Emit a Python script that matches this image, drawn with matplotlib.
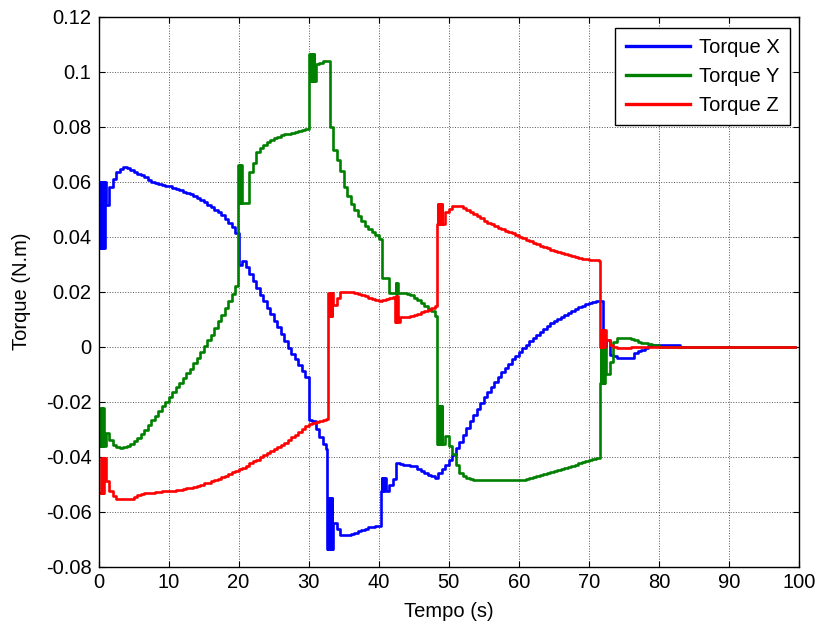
import numpy as np
import matplotlib
matplotlib.use('Agg')
import matplotlib.pyplot as plt
from matplotlib.ticker import FuncFormatter

plt.rcParams['font.family'] = ['Liberation Sans', 'DejaVu Sans']
plt.rcParams['axes.unicode_minus'] = False

# amostras a cada 0.5 s, de 0 a 83 s
dt = 0.5
t_end = 99.5

torque_x = [
    0.060, 0.036, 0.0515, 0.058, 0.061, 0.0635, 0.0645, 0.0652, 0.065, 0.0643,
    0.0636, 0.0629, 0.0622, 0.0615, 0.0607, 0.0600, 0.0595, 0.0591, 0.0588, 0.0585,
    0.0582, 0.0578, 0.0573, 0.0568, 0.0563, 0.0558, 0.0553, 0.0547, 0.0540, 0.0532,
    0.0524, 0.0515, 0.0506, 0.0498, 0.0489, 0.0477, 0.0464, 0.0450, 0.0433, 0.0413,
    0.0298, 0.0310, 0.0290, 0.0262, 0.0237, 0.0212, 0.0188, 0.0164, 0.0140, 0.0117,
    0.0094, 0.0070, 0.0045, 0.0021, -0.0004, -0.0026, -0.0047, -0.0067, -0.0089, -0.0110,
    -0.0268, -0.0270, -0.0300, -0.0330, -0.0355, -0.0372, -0.0600, -0.0640, -0.0665, -0.0687,
    -0.0687, -0.0687, -0.0683, -0.0678, -0.0672, -0.0667, -0.0662, -0.0658, -0.0655, -0.0653,
    -0.0652, -0.0500, -0.0526, -0.0505, -0.0480, -0.0422, -0.0428, -0.0430, -0.0431, -0.0433,
    -0.0436, -0.0445, -0.0453, -0.0460, -0.0467, -0.0472, -0.0477, -0.0460, -0.0445, -0.0430,
    -0.0412, -0.0395, -0.0370, -0.0347, -0.0323, -0.0298, -0.0272, -0.0250, -0.0228, -0.0207,
    -0.0185, -0.0166, -0.0147, -0.0128, -0.0110, -0.0094, -0.0078, -0.0062, -0.0047, -0.0033,
    -0.0019, -0.0006, 0.0007, 0.0019, 0.0031, 0.0043, 0.0054, 0.0064, 0.0074, 0.0084,
    0.0093, 0.0101, 0.0109, 0.0116, 0.0123, 0.0130, 0.0137, 0.0143, 0.0149, 0.0155,
    0.0159, 0.0162, 0.0164, 0.0166, 0.0000, 0.0024, -0.0030, -0.0035, -0.0040, -0.0043,
    -0.0043, -0.0043, -0.0040, -0.0025, -0.0018, -0.0012, -0.0005, 0.0003, 0.0006, 0.0007,
    0.0007, 0.0007, 0.0007, 0.0007, 0.0007, 0.0007, 0.0,
]

torque_y = [
    -0.0362, -0.030, -0.0314, -0.034, -0.0358, -0.0364, -0.0368, -0.0367, -0.0362, -0.0356,
    -0.0344, -0.0331, -0.0318, -0.0302, -0.0285, -0.0269, -0.0252, -0.0235, -0.0218, -0.0200,
    -0.0182, -0.0165, -0.0148, -0.0131, -0.0114, -0.0097, -0.0080, -0.0061, -0.0041, -0.0020,
    0.0001, 0.0022, 0.0043, 0.0067, 0.0091, 0.0116, 0.0141, 0.0167, 0.0190, 0.0220,
    0.060, 0.0521, 0.0521, 0.0636, 0.0666, 0.0709, 0.0722, 0.0732, 0.0742, 0.0750,
    0.0757, 0.0763, 0.0768, 0.0771, 0.0773, 0.0775, 0.0779, 0.0783, 0.0787, 0.0791,
    0.100, 0.100, 0.1027, 0.1032, 0.1037, 0.1037, 0.0799, 0.0715, 0.0680, 0.0639,
    0.0580, 0.0546, 0.0520, 0.0495, 0.0475, 0.0455, 0.0438, 0.0426, 0.0417, 0.0405,
    0.0392, 0.0250, 0.0250, 0.0195, 0.0195, 0.0232, 0.0195, 0.0193, 0.0191, 0.0189,
    0.0178, 0.0168, 0.0158, 0.0148, 0.0138, 0.0128, 0.0112, -0.0300, -0.0300, -0.0325,
    -0.0360, -0.0390, -0.0430, -0.0460, -0.0472, -0.0478, -0.0481, -0.0484, -0.0486, -0.0486,
    -0.0486, -0.0486, -0.0486, -0.0486, -0.0486, -0.0486, -0.0486, -0.0486, -0.0486, -0.0486,
    -0.0486, -0.0485, -0.0482, -0.0478, -0.0475, -0.0471, -0.0467, -0.0464, -0.0460, -0.0456,
    -0.0452, -0.0449, -0.0445, -0.0441, -0.0437, -0.0434, -0.0430, -0.0425, -0.0420, -0.0416,
    -0.0413, -0.0410, -0.0407, -0.0404, -0.0134, -0.0100, -0.0055, 0.0018, 0.0030, 0.0030,
    0.0030, 0.0030, 0.0028, 0.0022, 0.0018, 0.0014, 0.0011, 0.0009, 0.0007, 0.0006,
    0.0, 0.0, 0.0, 0.0, 0.0, 0.0, 0.0,
]

torque_z = [
    -0.0531, -0.0450, -0.0489, -0.0525, -0.0545, -0.0556, -0.0556, -0.0556, -0.0556, -0.0556,
    -0.0546, -0.0541, -0.0537, -0.0534, -0.0532, -0.0531, -0.0529, -0.0528, -0.0527, -0.0526,
    -0.0525, -0.0524, -0.0522, -0.0520, -0.0518, -0.0516, -0.0513, -0.0510, -0.0506, -0.0502,
    -0.0498, -0.0495, -0.0490, -0.0485, -0.0480, -0.0475, -0.0470, -0.0465, -0.0458, -0.0452,
    -0.0446, -0.0440, -0.0433, -0.0425, -0.0418, -0.0411, -0.0403, -0.0395, -0.0388, -0.0380,
    -0.0372, -0.0365, -0.0357, -0.0350, -0.0340, -0.0330, -0.0320, -0.0310, -0.0300, -0.0290,
    -0.0283, -0.0278, -0.0274, -0.0270, -0.0267, -0.0265, 0.0150, 0.0150, 0.0176, 0.0200,
    0.0200, 0.0200, 0.0199, 0.0196, 0.0192, 0.0188, 0.0183, 0.0178, 0.0173, 0.0168,
    0.0164, 0.0168, 0.0172, 0.0176, 0.0180, 0.0100, 0.0109, 0.0109, 0.0109, 0.0110,
    0.0114, 0.0119, 0.0124, 0.0129, 0.0134, 0.0139, 0.0146, 0.0480, 0.0480, 0.0490,
    0.0500, 0.0512, 0.0512, 0.0510, 0.0505, 0.0495, 0.0490, 0.0483, 0.0475, 0.0466,
    0.0457, 0.0450, 0.0444, 0.0438, 0.0432, 0.0427, 0.0421, 0.0416, 0.0411, 0.0406,
    0.0400, 0.0394, 0.0388, 0.0383, 0.0378, 0.0373, 0.0367, 0.0362, 0.0357, 0.0352,
    0.0348, 0.0344, 0.0340, 0.0336, 0.0332, 0.0329, 0.0326, 0.0323, 0.0320, 0.0318,
    0.0316, 0.0315, 0.0313, 0.0312, 0.0060, 0.0024, 0.0005, -0.0003, -0.0007, -0.0007,
    -0.0007, -0.0005, 0.0, 0.0, 0.0, 0.0, 0.0, 0.0, 0.0, 0.0,
    0.0, 0.0, 0.0, 0.0, 0.0, 0.0, 0.0,
]

# oscilacoes rapidas: (inicio, fim, minimo, maximo)
bursts_x = [(0.2, 0.9, 0.036, 0.060), (32.6, 33.4, -0.0736, -0.055),
            (40.3, 40.8, -0.0526, -0.0477)]
bursts_y = [(0.15, 0.8, -0.0362, -0.0223), (19.85, 20.5, 0.0521, 0.066),
            (30.0, 30.8, 0.0965, 0.1064), (42.3, 42.7, 0.0195, 0.0232),
            (48.3, 49.1, -0.0355, -0.0216), (71.6, 72.3, -0.0134, 0.0)]
bursts_z = [(0.3, 0.8, -0.0531, -0.0404), (32.7, 33.4, 0.011, 0.0195),
            (42.3, 42.7, 0.009, 0.0182), (48.3, 49.1, 0.0445, 0.0518),
            (71.6, 72.3, 0.0, 0.006)]

labels = ['Torque X', 'Torque Y', 'Torque Z']
colors = ['#0000ff', '#008000', '#ff0000']


def build_series(vals, bursts):
    t = np.arange(len(vals)) * dt
    pts = [(ti, vi) for ti, vi in zip(t, vals)
           if not any(b0 <= ti < b1 for b0, b1, _, _ in bursts)]
    for b0, b1, lo, hi in bursts:
        n = int(round((b1 - b0) / 0.1))
        for k in range(n + 1):
            pts.append((b0 + k * 0.1, lo if k % 2 == 0 else hi))
    pts.sort()
    pts.append((t_end, 0.0))
    tt, vv = zip(*pts)
    return np.array(tt), np.array(vv)


fig = plt.figure(figsize=(8.21, 6.28), dpi=100)
ax = fig.add_axes([0.12, 0.0979, 0.8532, 0.8758])

for vals, bursts, lab, col in zip([torque_x, torque_y, torque_z],
                                  [bursts_x, bursts_y, bursts_z], labels, colors):
    tt, vv = build_series(vals, bursts)
    ax.plot(tt, vv, drawstyle='steps-post', color=col, lw=1.9, label=lab)

ax.set_xlim(0, 100)
ax.set_ylim(-0.08, 0.12)
ax.set_xticks(np.arange(0, 101, 10))
ax.set_yticks(np.arange(-0.08, 0.121, 0.02))
ax.yaxis.set_major_formatter(FuncFormatter(lambda v, p: '%g' % round(v, 4)))
ax.tick_params(direction='in', length=4, width=0.8, top=True, right=True,
               labelsize=14.5, pad=5)
ax.grid(True, linestyle=':', color='#555555', linewidth=0.7)
for s in ax.spines.values():
    s.set_linewidth(1.0)
    s.set_color('black')

ax.set_xlabel('Tempo (s)', fontsize=14.5, labelpad=7)
ax.set_ylabel('Torque (N.m)', fontsize=14.5, labelpad=11)

leg = ax.legend(loc='upper right', bbox_to_anchor=(0.987, 0.979), borderaxespad=0,
                fontsize=14.5, handlelength=3.2, handletextpad=0.45, labelspacing=0.5,
                borderpad=0.5, fancybox=False, framealpha=1, edgecolor='black')
leg.get_frame().set_linewidth(1.0)
for h in leg.get_lines():
    h.set_linewidth(2.4)

plt.savefig('out.png', dpi=100)
